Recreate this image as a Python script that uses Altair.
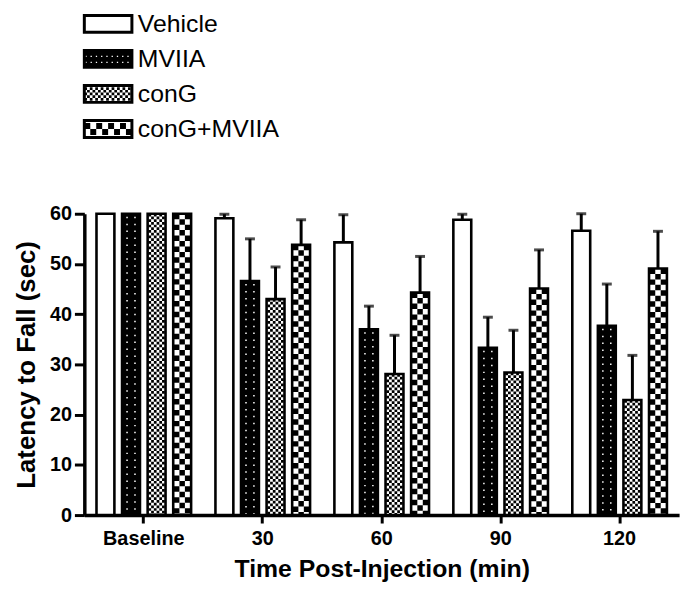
import altair as alt
import pandas as pd

times = ["Baseline", "30", "60", "90", "120"]
groups = ["Vehicle", "MVIIA", "conG", "conG+MVIIA"]
vehicle_mean = [60, 59.1, 54.3, 58.8, 56.6]
mviia_mean = [60, 46.6, 37.0, 33.3, 37.7]
cong_mean = [60, 43.0, 28.1, 28.4, 22.9]
combo_mean = [60, 53.8, 44.3, 45.1, 49.1]
vehicle_sem = [0, 0.8, 5.5, 1.1, 3.4]
mviia_sem = [0, 8.4, 4.6, 6.1, 8.3]
cong_sem = [0, 6.4, 7.7, 8.4, 8.9]
combo_sem = [0, 5.0, 7.2, 7.7, 7.4]
y_ticks = [0, 10, 20, 30, 40, 50, 60]

rows = []
for g, means, sems in zip(groups,
                          [vehicle_mean, mviia_mean, cong_mean, combo_mean],
                          [vehicle_sem, mviia_sem, cong_sem, combo_sem]):
    for t, m, s in zip(times, means, sems):
        rows.append({"time": t, "group": g, "mean": m, "top": m + s})
df = pd.DataFrame(rows)
leg_df = pd.DataFrame({"group": groups})

FONT = "Liberation Sans"
W = 600
PI_X, PO_X = 0.14, 0.07
BW = W / (len(times) - PI_X + 2 * PO_X) * (1 - PI_X)

x_axis = alt.Axis(title="Time Post-Injection (min)", labelAngle=0, tickSize=8,
                  labelPadding=6, titleFontSize=25, titlePadding=8)
y_axis = alt.Axis(title="Latency to Fall (sec)", values=y_ticks, tickSize=10,
                  labelPadding=3, titleFontSize=26, titlePadding=10)

X = alt.X("time:N", sort=times,
          scale=alt.Scale(domain=times, paddingInner=PI_X, paddingOuter=PO_X),
          axis=x_axis)


def XO(shift=0.0):
    return alt.XOffset("group:N", sort=groups,
                       scale=alt.Scale(domain=groups, paddingInner=0.3, paddingOuter=0.15,
                                       range=[shift, BW + shift]))


YS = alt.Scale(domain=[0, 60], nice=False, zero=True)
Ymean = alt.Y("mean:Q", scale=YS, axis=y_axis)
Ytop = alt.Y("top:Q", scale=YS, axis=y_axis)

base = alt.Chart(df).encode(x=X, xOffset=XO())

err_line = base.transform_filter("datum.top > datum.mean").mark_rule(
    color="black", strokeWidth=3).encode(y=Ymean, y2="top:Q")
err_cap = base.transform_filter("datum.top > datum.mean").mark_tick(
    color="black", size=10, thickness=3).encode(y=Ytop)

fill = base.mark_bar(strokeWidth=0).encode(
    y=Ymean, y2=alt.datum(0),
    color=alt.Color("group:N", scale=alt.Scale(domain=groups,
                    range=["#ffffff", "#000000", "#ffffff", "#ffffff"]), legend=None))

layers = [err_line, err_cap, fill]

# textures: (group, column offsets, width, dash on, dash off, colour)
bar_textures = [
    ("MVIIA", [-4.0, 4.0], 1.5, 1.5, 5.5, "white"),
    ("conG", [-6.875, -4.125, -1.375, 1.375, 4.125, 6.875], 2.75, 2.75, 2.75, "black"),
    ("conG+MVIIA", [-5.5, 0.0, 5.5], 5.5, 5.5, 5.5, "black"),
]
for g, offs, w, on, off, c in bar_textures:
    for k, o in enumerate(offs):
        layers.append(
            alt.Chart(df).transform_filter(alt.datum.group == g).mark_rule(
                strokeWidth=w, strokeDash=[on, off],
                strokeDashOffset=(k % 2) * on if c == "black" else -3,
                color=c, strokeCap="butt").encode(
                    x=X, xOffset=XO(o), y=Ymean, y2=alt.datum(0)))

outline = base.mark_bar(fillOpacity=0, stroke="black", strokeWidth=2.6).encode(
    y=Ymean, y2=alt.datum(0))
layers.append(outline)

main = alt.layer(*layers).resolve_scale(xOffset="independent")

# legend
LY = alt.Y("group:N", sort=groups,
           scale=alt.Scale(domain=groups, range=[-200, -77], paddingInner=0.52, paddingOuter=0),
           axis=None)
lbase = alt.Chart(leg_df)
leg_layers = [
    lbase.mark_rect(strokeWidth=0).encode(
        x=alt.value(0), x2=alt.value(48), y=LY,
        color=alt.Color("group:N", scale=alt.Scale(domain=groups,
                        range=["#ffffff", "#000000", "#ffffff", "#ffffff"]), legend=None))
]
leg_textures = [
    ("MVIIA", [-2.5, 3.5], 1.3, 1.3, 4.0, "white"),
    ("conG", [-5.5, -2.75, 0.0, 2.75, 5.5], 2.75, 2.75, 2.75, "black"),
    ("conG+MVIIA", [-3.0, 3.0], 6.0, 6.0, 6.0, "black"),
]
for g, offs, w, on, off, c in leg_textures:
    for k, o in enumerate(offs):
        leg_layers.append(
            lbase.transform_filter(alt.datum.group == g).mark_rule(
                yOffset=o, strokeWidth=w, strokeDash=[on, off],
                strokeDashOffset=(k % 2) * on if c == "black" else -1,
                color=c, strokeCap="butt").encode(x=alt.value(0), x2=alt.value(48), y=LY))
leg_layers.append(
    lbase.mark_rect(fillOpacity=0, stroke="black", strokeWidth=3).encode(
        x=alt.value(0), x2=alt.value(48), y=LY))
leg_layers.append(
    lbase.mark_text(align="left", baseline="middle", font=FONT, fontSize=25,
                    color="black").encode(x=alt.value(54), y=LY, text="group:N"))
legend = alt.layer(*leg_layers)

chart = alt.layer(main, legend).resolve_scale(
    y="independent", color="independent"
).properties(
    width=W, height=304,
    autosize=alt.AutoSizeParams(type="none"),
    padding={"left": 77, "top": 205, "right": 10, "bottom": 70},
).configure_view(stroke=None).configure_axis(
    domainColor="black", domainWidth=3.5, tickColor="black", tickWidth=3,
    labelFont=FONT, labelFontWeight="bold", labelFontSize=20, labelColor="black",
    titleFont=FONT, titleFontWeight="bold", titleColor="black", grid=False,
)

chart.save("out.html", embed_options={"renderer": "svg", "actions": False})
